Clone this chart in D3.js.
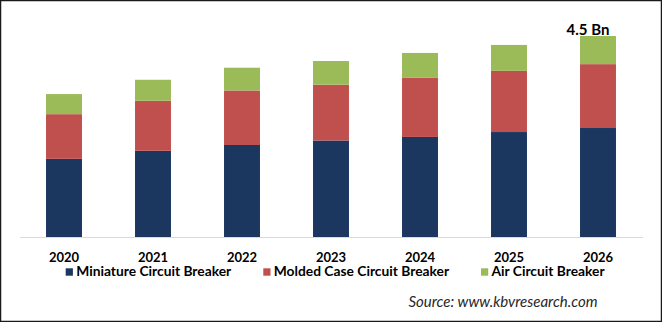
<!DOCTYPE html>
<html>
<head>
<meta charset="utf-8">
<script src="https://cdn.jsdelivr.net/npm/d3@7"></script>
<style>
  html, body { margin: 0; padding: 0; background: #fff; }
  svg { display: block; }
</style>
</head>
<body>
<svg id="chart" width="662" height="322"></svg>
<script>
const years = ["2020", "2021", "2022", "2023", "2024", "2025", "2026"];
const seriesNames = ["Miniature Circuit Breaker", "Molded Case Circuit Breaker", "Air Circuit Breaker"];
const miniature = [1.75, 1.93, 2.06, 2.16, 2.24, 2.35, 2.44];
const moldedCase = [1.00, 1.12, 1.22, 1.25, 1.33, 1.37, 1.43];
const airCircuit = [0.45, 0.47, 0.51, 0.53, 0.55, 0.58, 0.63];
const colors = ["#1b375f", "#c0504d", "#9bbb59"];
const totalLabel = "4.5 Bn";
const sourceText = "Source: www.kbvresearch.com";

const svg = d3.select("#chart");
const W = 662, H = 322;
const font = "Lato, 'Open Sans', sans-serif";

// frame
svg.append("rect").attr("x", 0.5).attr("y", 0.5).attr("width", W - 1).attr("height", H - 1)
  .attr("fill", "#fff").attr("stroke", "#1a1a1a").attr("stroke-width", 1.5);

const rows = years.map((yr, i) => ({ year: yr, s0: miniature[i], s1: moldedCase[i], s2: airCircuit[i] }));
const stack = d3.stack().keys(["s0", "s1", "s2"]);
const layers = stack(rows);

const x = d3.scaleBand().domain(years).range([19.5, 642.5]).paddingInner(0.596).paddingOuter(0.298);
const y = d3.scaleLinear().domain([0, 4.5]).range([237, 36]);

svg.append("g").selectAll("g").data(layers).join("g")
  .attr("fill", (d, i) => colors[i])
  .selectAll("rect").data(d => d).join("rect")
  .attr("x", d => x(d.data.year))
  .attr("width", x.bandwidth())
  .attr("y", d => y(d[1]))
  .attr("height", d => y(d[0]) - y(d[1]));

// axis
const axis = d3.axisBottom(x).tickSize(0).tickPadding(15.5);
const gx = svg.append("g").attr("transform", "translate(0,237)").call(axis);
gx.select(".domain").attr("stroke", "#d9d9d9").attr("stroke-width", 1.2);
gx.selectAll("text").attr("font-family", font).attr("font-weight", "bold")
  .attr("font-size", 13).attr("fill", "#000");

// total label for the last year
const lastIdx = years.length - 1;
const lastTotal = miniature[lastIdx] + moldedCase[lastIdx] + airCircuit[lastIdx];
svg.append("text")
  .attr("x", x(years[lastIdx]) + x.bandwidth() / 2 - 10)
  .attr("y", y(lastTotal) - 1)
  .attr("text-anchor", "middle")
  .attr("font-family", font).attr("font-weight", "bold").attr("font-size", 15)
  .attr("fill", "#000")
  .text(totalLabel);

// legend
const legendX = [65.7, 263.3, 481];
const lg = svg.append("g");
seriesNames.forEach((name, i) => {
  lg.append("rect").attr("x", legendX[i]).attr("y", 268.3).attr("width", 7.2).attr("height", 7.4).attr("fill", colors[i]);
  lg.append("text").attr("x", legendX[i] + 10.5).attr("y", 275.7)
    .attr("font-family", font).attr("font-weight", "bold").attr("font-size", 13.8)
    .attr("fill", "#000").text(name);
});

// source
svg.append("text").attr("x", 597.5).attr("y", 306.5).attr("text-anchor", "end")
  .attr("font-family", font).attr("font-style", "italic").attr("font-size", 15)
  .attr("fill", "#262626").text(sourceText);
</script>
</body>
</html>
